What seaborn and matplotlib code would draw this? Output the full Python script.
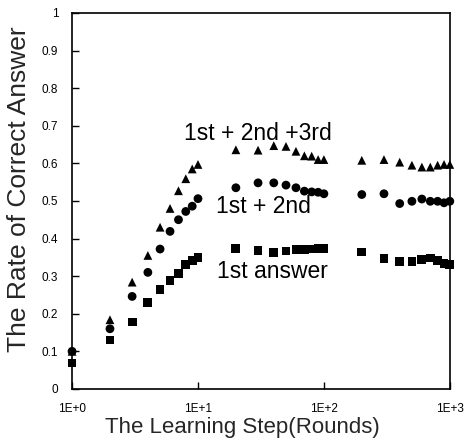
import matplotlib
matplotlib.use("Agg")
import matplotlib.pyplot as plt
import matplotlib.ticker as mticker
import numpy as np
import pandas as pd
import seaborn as sns

rounds = [1, 2, 3, 4, 5, 6, 7, 8, 9, 10, 20, 30, 40, 50, 60, 70, 80, 90, 100,
          200, 300, 400, 500, 600, 700, 800, 900, 1000]
first = [0.069, 0.13, 0.178, 0.23, 0.264, 0.288, 0.308, 0.33, 0.342, 0.35,
         0.374, 0.369, 0.362, 0.367, 0.371, 0.371, 0.372, 0.374, 0.374,
         0.364, 0.346, 0.339, 0.339, 0.344, 0.348, 0.342, 0.333, 0.33]
first_second = [0.10, 0.16, 0.246, 0.31, 0.372, 0.419, 0.45, 0.472, 0.486, 0.506,
                0.535, 0.548, 0.548, 0.542, 0.535, 0.526, 0.524, 0.523, 0.519,
                0.517, 0.519, 0.493, 0.499, 0.505, 0.499, 0.499, 0.495, 0.499]
first_to_third = [0.10, 0.184, 0.284, 0.355, 0.43, 0.48, 0.527, 0.559, 0.585, 0.597,
                  0.636, 0.635, 0.647, 0.645, 0.632, 0.62, 0.619, 0.61, 0.61,
                  0.608, 0.61, 0.603, 0.595, 0.59, 0.59, 0.595, 0.597, 0.597]
series_names = ["1st answer", "1st + 2nd", "1st + 2nd +3rd"]
label_x = [39, 33, 30]
label_y = [0.313, 0.486, 0.68]

df = pd.DataFrame({
    "rounds": rounds * 3,
    "rate": first + first_second + first_to_third,
    "series": np.repeat(series_names, len(rounds)),
})

sns.set_theme(style="ticks")
plt.rcParams["font.family"] = ["Liberation Sans", "DejaVu Sans"]

fig = plt.figure(figsize=(4.71, 4.45), dpi=100)
ax = fig.add_axes([0.153, 0.126, 0.802, 0.845])

sns.scatterplot(data=df, x="rounds", y="rate", style="series",
                markers={"1st answer": "s", "1st + 2nd": "o", "1st + 2nd +3rd": "^"},
                color="black", s=40, linewidth=0, legend=False, clip_on=False, ax=ax)

ax.set_xscale("log")
ax.set_xlim(1, 1000)
ax.set_ylim(0, 1)
ax.set_xticks([1, 10, 100, 1000])
ax.set_xticklabels(["1E+0", "1E+1", "1E+2", "1E+3"])
ax.xaxis.set_minor_locator(mticker.NullLocator())
ax.set_yticks(np.arange(0, 1.01, 0.1))
ax.set_yticklabels(["0"] + [f"{v:.1f}" for v in np.arange(0.1, 0.95, 0.1)] + ["1"])
ax.tick_params(axis="both", direction="in", length=5, width=1, labelsize=8.5, colors="black")
ax.tick_params(axis="x", pad=10)
ax.tick_params(axis="y", pad=10)
for sp in ax.spines.values():
    sp.set_color("black")
    sp.set_linewidth(1.2)

ax.set_xlabel("The Learning Step(Rounds)", fontsize=16)
ax.set_ylabel("The Rate of Correct Answer", fontsize=19)
ax.xaxis.set_label_coords(0.45, -0.074)
ax.yaxis.set_label_coords(-0.11, 0.53)

for name, lx, ly in zip(series_names, label_x, label_y):
    ax.text(lx, ly, name, fontsize=16.5, ha="center", va="center", color="black")

fig.savefig("out.png", dpi=100)
